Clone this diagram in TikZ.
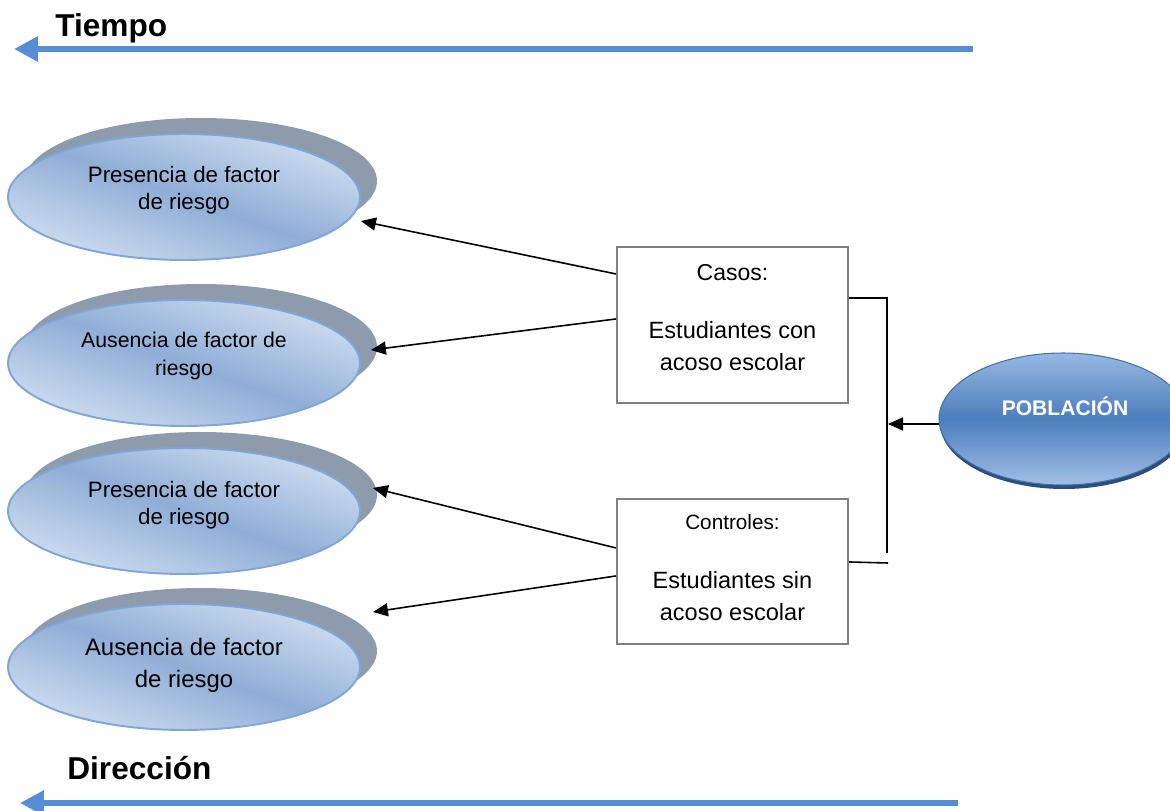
\documentclass[tikz,border=0pt]{standalone}
\usepackage{fontspec}
\setmainfont{Liberation Sans}
\usetikzlibrary{arrows.meta,shapes.geometric,calc}

\definecolor{timeblue}{RGB}{85,142,213}
\definecolor{shadowgrey}{RGB}{142,155,172}
\definecolor{elllight}{RGB}{206,221,240}
\definecolor{elldark}{RGB}{143,173,214}
\definecolor{ellborder}{RGB}{128,166,214}
\definecolor{poplight}{RGB}{150,184,226}
\definecolor{popmid}{RGB}{76,125,188}
\definecolor{poprim}{RGB}{44,78,125}
\definecolor{boxgrey}{RGB}{128,128,128}

\tikzset{
  timearrow/.style={draw=timeblue, line width=3.9pt,
    -{Triangle[length=0.48cm,width=0.48cm]}},
  title/.style={anchor=base west, inner sep=0, font=\fontsize{18}{22}\selectfont\bfseries},
  ellshadow/.style={ellipse, fill=shadowgrey, draw=none, inner sep=0,
    minimum width=7.04cm, minimum height=2.52cm},
  factor/.style={ellipse, draw=ellborder, line width=1.1pt, inner sep=0,
    top color=elllight, bottom color=elllight, middle color=elldark,
    shading angle=-20, minimum width=7.04cm, minimum height=2.52cm},
  lbl/.style={align=center, inner sep=0},
  group/.style={draw=boxgrey, line width=1.2pt, fill=white, inner sep=0},
  conn/.style={line width=0.9pt, -{Triangle[length=0.3cm,width=0.26cm]}},
  plain/.style={line width=0.9pt},
}

\begin{document}
\begin{tikzpicture}[x=0.02cm,y=-0.02cm]
\useasboundingbox (0,0) rectangle (1170,811);
\clip (0,0) rectangle (1170,811);

% time axis at the top
\coordinate (t0) at (973,49);
\coordinate (t1) at (14,49);
\draw[timearrow] (t0) -- (t1);
\node[title] (tiempo) at (55,37) {Tiempo};

% direction axis at the bottom
\coordinate (d0) at (958,803);
\coordinate (d1) at (20,803);
\draw[timearrow] (d0) -- (d1);
\node[title] (direccion) at (67,779) {Dirección};

% exposure groups (shadow first, then the shaded ellipse)
\node[ellshadow] (s1) at (201,181) {};
\node[ellshadow] (s2) at (201,347) {};
\node[ellshadow] (s3) at (201,495) {};
\node[ellshadow] (s4) at (201,651) {};
\node[factor] (e1) at (184,197) {};
\node[factor] (e2) at (184,363) {};
\node[factor] (e3) at (184,511) {};
\node[factor] (e4) at (184,667) {};
\node[lbl, font=\fontsize{12.7}{15.4}\selectfont] (e1t) at (184,190) {Presencia de factor\\de riesgo};
\node[lbl, font=\fontsize{12.1}{15.9}\selectfont] (e2t) at (184,356) {Ausencia de factor de\\riesgo};
\node[lbl, font=\fontsize{12.7}{15.4}\selectfont] (e3t) at (184,505) {Presencia de factor\\de riesgo};
\node[lbl, font=\fontsize{13.6}{18.2}\selectfont] (e4t) at (184,665) {Ausencia de factor\\de riesgo};

% case and control boxes
\node[group, minimum width=4.62cm, minimum height=3.12cm] (casos) at (732.5,325) {};
\node[lbl, font=\fontsize{13.1}{16}\selectfont] (casosT) at (732.5,273) {Casos:};
\node[lbl, font=\fontsize{13.4}{18.5}\selectfont] (casosD) at (732.5,346) {Estudiantes con\\acoso escolar};

\node[group, minimum width=4.62cm, minimum height=2.9cm] (controles) at (732.5,571.5) {};
\node[lbl, font=\fontsize{11.8}{14}\selectfont] (controlesT) at (732.5,522) {Controles:};
\node[lbl, font=\fontsize{13.4}{18.5}\selectfont] (controlesD) at (732.5,596) {Estudiantes sin\\acoso escolar};

% population
\node[ellipse, fill=poprim, inner sep=0, minimum width=4.96cm, minimum height=2.64cm] (pobs) at (1064,423) {};
\node[ellipse, draw=popmid!90!black, line width=0.6pt, inner sep=0,
  top color=poplight, bottom color=poplight!90!white, middle color=popmid,
  minimum width=4.96cm, minimum height=2.64cm] (pob) at (1063,419) {};
\node[lbl, text=white, font=\fontsize{12}{14}\selectfont\bfseries] (pobt) at (1065,406) {POBLACIÓN};

% connectors from the groups to the exposure ellipses
\draw[conn] ($(casos.north west)+(0,28)$) -- ($(e1.east)+(0,24)$);
\draw[conn] ($(casos.north west)+(0,73)$) -- ($(e2.east)+(10,-13)$);
\draw[conn] ($(controles.north west)+(0,50)$) -- ($(e3.east)+(12,-23)$);
\draw[conn] ($(controles.north west)+(0,78)$) -- ($(e4.east)+(12,-55)$);

% bracket joining both groups to the population
\coordinate (bmid) at (888,424);
\draw[plain] ($(casos.north east)+(0,52)$) -| (887,553);
\draw[plain] ($(controles.north east)+(0,64)$) -- (888,563);
\draw[conn] (pob.west |- bmid) -- (bmid);
\end{tikzpicture}
\end{document}
